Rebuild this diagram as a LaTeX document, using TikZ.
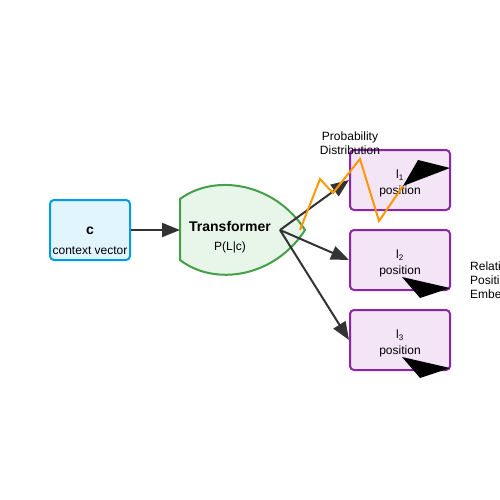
\documentclass[tikz,border=0pt]{standalone}
\usepackage{fontspec}
\setmainfont{Liberation Sans}
\usetikzlibrary{arrows.meta}

\definecolor{ctxfill}{HTML}{E1F5FE}
\definecolor{ctxline}{HTML}{039BE5}
\definecolor{trfill}{HTML}{E8F5E9}
\definecolor{trline}{HTML}{43A047}
\definecolor{posfill}{HTML}{F3E5F5}
\definecolor{posline}{HTML}{8E24AA}
\definecolor{arrowgray}{HTML}{333333}
\definecolor{distorange}{HTML}{FF9800}

\tikzset{
  posbox/.style={draw=posline, fill=posfill, line width=2pt, rounded corners=4pt,
    minimum width=100pt, minimum height=60pt, inner sep=0pt},
  flow/.style={draw=arrowgray, line width=2pt, -{Triangle[length=18pt,width=14pt]}},
  lbl/.style={inner sep=0pt, font=\fontsize{12}{14}\selectfont}
}

\begin{document}
\begin{tikzpicture}[x=1pt, y=-1pt]
  \useasboundingbox (0,0) rectangle (500,500);
  \clip (0,0) rectangle (500,500);
  \fill[white] (0,0) rectangle (500,500);

  % Context vector
  \node[draw=ctxline, fill=ctxfill, line width=2pt, rounded corners=4pt,
    minimum width=80pt, minimum height=60pt] (ctx) at (90,230) {};
  \node[lbl, font=\fontsize{14}{16}\selectfont\bfseries] (ctxname) at (90,231) {c};
  \node[lbl] (ctxtext) at (90,251) {context vector};

  % Transformer
  \draw[draw=trline, fill=trfill, line width=2pt]
    (180,199) .. controls (215,173) and (275,183) .. (305,230)
    .. controls (275,277) and (215,287) .. (180,260) -- cycle;
  \node[lbl, font=\fontsize{14}{16}\selectfont\bfseries] (trname) at (230,226) {Transformer};
  \node[lbl] (trprob) at (230,247) {P(L|c)};
  \coordinate (hub) at (280,230);
  \coordinate (trin) at (180,230);

  % Position boxes
  \node[posbox] (pos1) at (400,180) {};
  \node[posbox] (pos2) at (400,260) {};
  \node[posbox] (pos3) at (400,340) {};
  \foreach \n/\y/\i in {1/180/1, 2/260/2, 3/340/3} {
    \node[lbl] (l\n) at (400,\y-5) {l\textsubscript{\i}};
    \node[lbl] (p\n) at (400,\y+11) {position};
  }

  % Connections
  \draw[flow] (ctx.east) -- (trin);
  \draw[flow] (hub) -- (pos1.west);
  \draw[flow] (hub) -- (pos2.west);
  \draw[flow] (hub) -- (pos3.west);

  % Labels
  \node[lbl, align=center] (dist) at (350,143) {Probability\\Distribution};
  \node[lbl, anchor=west, align=left] (emb) at (470,281) {Relative\\Position\\Embedding};

  % Distribution curve
  \draw[distorange, line width=2pt, line join=miter]
    (300,230) -- (320,179) -- (333,193) -- (360,159) -- (379,221) -- (403,186);

  % Markers
  \fill[black] (418,160) -- (450,168) -- (403,186) -- cycle;
  \fill[black] (402,277) -- (450,288) -- (420,298) -- cycle;
  \fill[black] (402,357) -- (450,368) -- (420,378) -- cycle;
\end{tikzpicture}
\end{document}
